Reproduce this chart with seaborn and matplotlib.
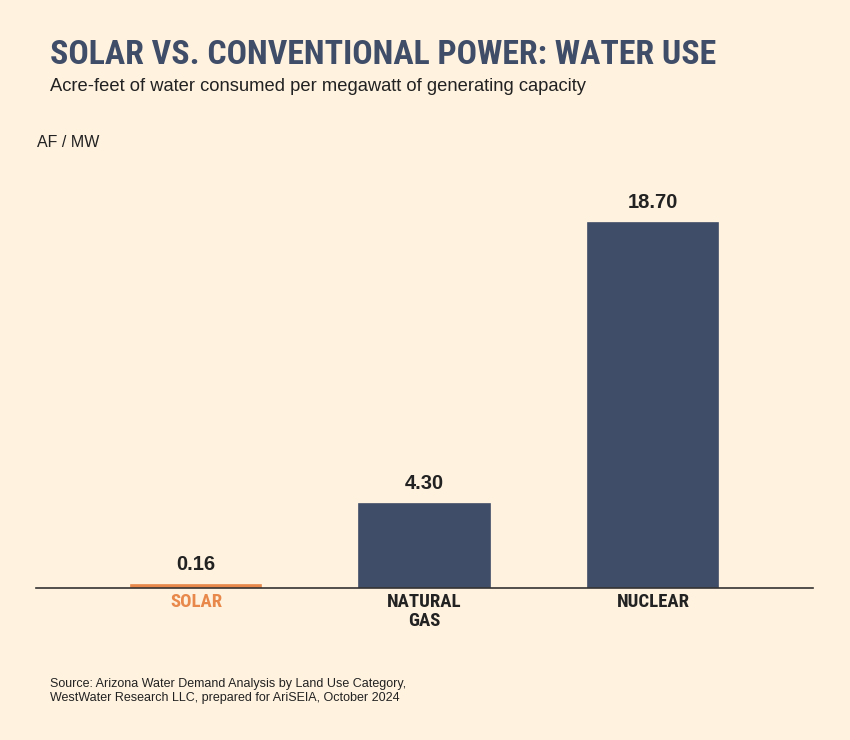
import numpy as np
import pandas as pd
import seaborn as sns
import matplotlib
matplotlib.use('Agg')
import matplotlib.pyplot as plt

categories = ['SOLAR', 'NATURAL\nGAS', 'NUCLEAR']
values = [0.16, 4.30, 18.70]
value_labels = ['0.16', '4.30', '18.70']

bg = '#FFF2DF'
navy = '#3F4D68'
orange = '#E8884A'
ink = '#222222'
narrow = ['Roboto Condensed', 'DejaVu Sans']
regular = ['Liberation Sans', 'DejaVu Sans']

sns.set_theme(style='white')
plt.rcParams['font.family'] = regular

df = pd.DataFrame({'source': categories, 'af_mw': values})
colors = [orange, navy, navy]

fig = plt.figure(figsize=(8.5, 7.4), dpi=100, facecolor=bg)
ax = fig.add_axes([0.0424, 0.2054, 0.914, 0.580])
ax.set_facecolor(bg)

sns.barplot(data=df, x='source', y='af_mw', hue='source', palette=colors,
            width=0.573, legend=False, ax=ax, saturation=1)
# edge in the bar colour so the thin solar bar reads like the original
for p in ax.patches:
    p.set_edgecolor(p.get_facecolor())
    p.set_linewidth(1.2)

for i, (v, lab) in enumerate(zip(values, value_labels)):
    ax.annotate(lab, (i, v), xytext=(0, 11), textcoords='offset points',
                ha='center', va='baseline', fontsize=14.5, fontweight='bold',
                color=ink, family=regular)

ax.set_xlim(-0.7, 2.7)
ax.set_ylim(0, 22)
ax.set_xlabel('')
ax.set_ylabel('')
ax.set_yticks([])
ax.tick_params(axis='x', length=0, pad=3.5)
ax.set_xticks(range(len(categories)))
ax.set_xticklabels(categories, fontsize=13.5, fontweight='bold',
                   family=narrow, linespacing=1.1, va='top')
for t, c in zip(ax.get_xticklabels(), [orange, ink, ink]):
    t.set_color(c)

for s in ['top', 'right', 'left']:
    ax.spines[s].set_visible(False)
ax.spines['bottom'].set_color('#333333')
ax.spines['bottom'].set_linewidth(1.2)

fig.text(50 / 850, 1 - 64 / 740, 'SOLAR VS. CONVENTIONAL POWER: WATER USE',
         fontsize=24.4, fontweight='bold', color=navy, family=narrow,
         ha='left', va='baseline')
fig.text(50 / 850, 1 - 91 / 740,
         'Acre-feet of water consumed per megawatt of generating capacity',
         fontsize=13.2, color=ink, family=regular, ha='left', va='baseline')
fig.text(37 / 850, 1 - 147 / 740, 'AF / MW', fontsize=11.5, color=ink,
         family=regular, ha='left', va='baseline')
fig.text(50 / 850, 1 - 678 / 740,
         'Source: Arizona Water Demand Analysis by Land Use Category,\n'
         'WestWater Research LLC, prepared for AriSEIA, October 2024',
         fontsize=9, color=ink, family=regular, ha='left', va='top',
         linespacing=1.25)

fig.savefig('out.png', dpi=100, facecolor=bg)
plt.close()
